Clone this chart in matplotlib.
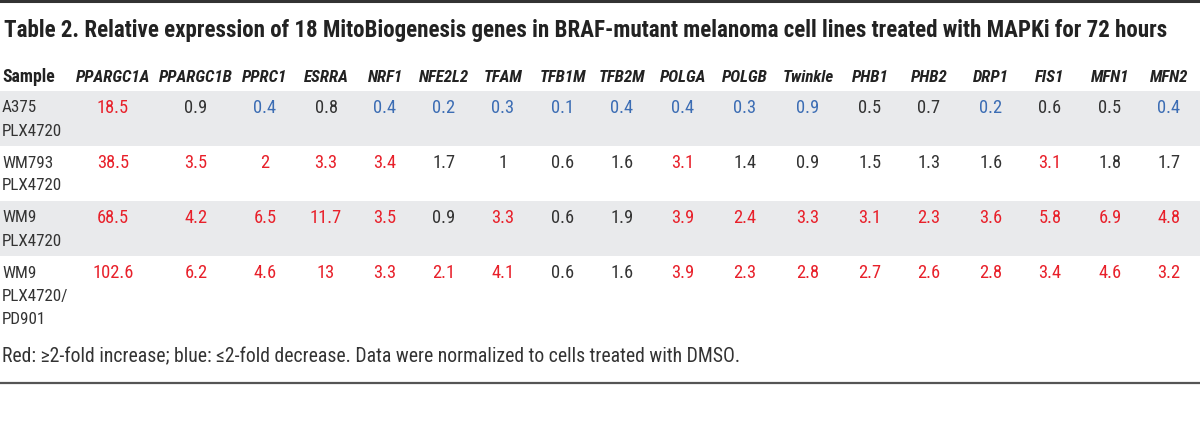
import matplotlib
matplotlib.use("Agg")
import matplotlib.pyplot as plt
from matplotlib import font_manager as fm

# ---- data ----
genes = ["PPARGC1A", "PPARGC1B", "PPRC1", "ESRRA", "NRF1", "NFE2L2", "TFAM", "TFB1M",
         "TFB2M", "POLGA", "POLGB", "Twinkle", "PHB1", "PHB2", "DRP1", "FIS1", "MFN1", "MFN2"]
samples = ["A375\nPLX4720", "WM793\nPLX4720", "WM9\nPLX4720", "WM9\nPLX4720/\nPD901"]
row_a375 = [18.5, 0.9, 0.4, 0.8, 0.4, 0.2, 0.3, 0.1, 0.4, 0.4, 0.3, 0.9, 0.5, 0.7, 0.2, 0.6, 0.5, 0.4]
row_wm793 = [38.5, 3.5, 2, 3.3, 3.4, 1.7, 1, 0.6, 1.6, 3.1, 1.4, 0.9, 1.5, 1.3, 1.6, 3.1, 1.8, 1.7]
row_wm9 = [68.5, 4.2, 6.5, 11.7, 3.5, 0.9, 3.3, 0.6, 1.9, 3.9, 2.4, 3.3, 3.1, 2.3, 3.6, 5.8, 6.9, 4.8]
row_wm9_pd = [102.6, 6.2, 4.6, 13, 3.3, 2.1, 4.1, 0.6, 1.6, 3.9, 2.3, 2.8, 2.7, 2.6, 2.8, 3.4, 4.6, 3.2]
# colour codes per cell: r = increase, b = decrease, k = unchanged
col_a375 = "rkbkbbbbbbbbkkbkkb"
col_wm793 = "rrrrrkkkkrkkkkkrkk"
col_wm9 = "rrrrrkrkkrrrrrrrrr"
col_wm9_pd = "rrrrrrrkkrrrrrrrrr"
title = "Table 2. Relative expression of 18 MitoBiogenesis genes in BRAF-mutant melanoma cell lines treated with MAPKi for 72 hours"
footnote = "Red: \u22652-fold increase; blue: \u22642-fold decrease. Data were normalized to cells treated with DMSO."

rows = [row_a375, row_wm793, row_wm9, row_wm9_pd]
colcodes = [col_a375, col_wm793, col_wm9, col_wm9_pd]

# ---- font choice: condensed families, checking which weights/styles exist ----
entries = fm.fontManager.ttflist


def wnum(w):
    if isinstance(w, (int, float)):
        return w
    return fm.weight_dict.get(str(w), 400)


def is_cond(f):
    return ("Condensed" in f.name or "Narrow" in f.name or
            str(f.stretch).lower() in ("condensed", "semi-condensed", "extra-condensed"))


fams = {}
for f in entries:
    if is_cond(f):
        key = (f.name, "condensed" if str(f.stretch).lower() in ("condensed", "semi-condensed", "extra-condensed") else "normal")
        d = fams.setdefault(key, set())
        d.add((wnum(f.weight) >= 600, f.style != "normal"))

pref = ["Roboto Condensed", "Open Sans Condensed", "Liberation Sans Narrow", "DejaVu Sans", "Noto Sans"]


def pick(need):
    cands = [k for k, v in fams.items() if need <= v]
    if not cands:
        return None
    cands.sort(key=lambda k: pref.index(k[0]) if k[0] in pref else len(pref))
    return cands[0]


reg = pick({(False, False)}) or ("Roboto", "normal")
bold = pick({(True, False)}) or ("Roboto", "normal")
boldital = pick({(True, True)}) or pick({(True, False)}) or ("Roboto", "normal")

COLORS = {"r": "#e8202a", "b": "#3c6db4", "k": "#333333"}
col_x = [113, 196, 265, 326, 385, 444, 503, 563, 622, 683, 745, 808, 870, 929, 991, 1050, 1110, 1169]
row_y0, row_pitch, line_h = 108, 55, 23
band_top = 91

fig = plt.figure(figsize=(12, 4.48), dpi=100)
ax = fig.add_axes([0, 0, 1, 1])
ax.set_xlim(0, 1200)
ax.set_ylim(448, 0)
ax.axis("off")
renderer = fig.canvas.get_renderer()


def fkw(fam, weight="normal", style="normal"):
    return dict(family=fam[0], fontstretch=fam[1], fontweight=weight, style=style)


REG = fkw(reg)
BOLD = fkw(bold, "bold")
BI = fkw(boldital, "bold", "italic")


def fit_size(text, width_px, kw):
    t = ax.text(0, 0, text, fontsize=10, **kw)
    w = t.get_window_extent(renderer).width
    t.remove()
    return 10 * width_px / w


title_fs = fit_size(title, 1165, BOLD)
head_fs = fit_size("PPARGC1A", 74, BI)
samp_fs = fit_size("PLX4720", 52, REG) * 1.16
val_fs = fit_size("102.6", 34, REG) * 1.2
foot_fs = fit_size(footnote, 733, REG)

ax.axhline(1.5, color="#333333", lw=2.2)
ax.axhline(383, color="#555555", lw=1.6)

ax.text(4, 30, title, fontsize=title_fs, color="#222222", va="center", ha="left", **BOLD)

ax.text(2, 77, "Sample", fontsize=head_fs * 1.05, color="#222222", va="center", ha="left", **BOLD)
for g, x in zip(genes, col_x):
    ax.text(x, 77, g, fontsize=head_fs, color="#222222", va="center", ha="center", **BI)

for i, (s, vals, codes) in enumerate(zip(samples, rows, colcodes)):
    y = row_y0 + i * row_pitch
    if i % 2 == 0:
        ax.axhspan(band_top + i * row_pitch, band_top + (i + 1) * row_pitch,
                   color="#e9eaec", lw=0, zorder=0)
    for j, line in enumerate(s.split("\n")):
        ax.text(2, y + j * line_h, line, fontsize=samp_fs, color="#333333",
                va="center", ha="left", **REG)
    for v, c, x in zip(vals, codes, col_x):
        ax.text(x, y, f"{v:g}", fontsize=val_fs, color=COLORS[c], va="center", ha="center", **REG)

ax.text(2, 357, footnote, fontsize=foot_fs, color="#333333", va="center", ha="left", **REG)

fig.savefig("out.png", dpi=100)
